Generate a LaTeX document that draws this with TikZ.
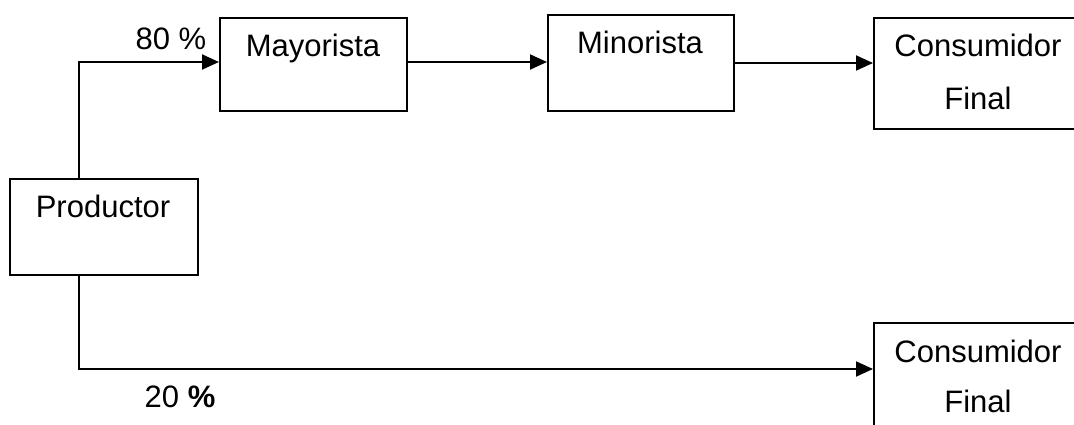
\documentclass[tikz,border=0pt]{standalone}
\usepackage{fontspec}
\setmainfont{Liberation Sans}
\usetikzlibrary{arrows.meta}
\begin{document}
\begin{tikzpicture}[x=1pt,y=-1pt,
  box/.style={draw,line width=1.9pt,rectangle,inner sep=0pt,anchor=north west},
  lbl/.style={anchor=base,inner sep=0pt,font=\fontsize{31}{37}\selectfont},
  conn/.style={line width=1.9pt,-{Triangle[length=17pt,width=15pt]}}]
\useasboundingbox (0,0) rectangle (1074,425);
\clip (0,0) rectangle (1074,425);
\fill[white] (0,0) rectangle (1074,425);
% boxes
\node[box,minimum width=188pt,minimum height=96pt] (prod) at (9,178) {};
\node[box,minimum width=187pt,minimum height=93pt] (may) at (219,17) {};
\node[box,minimum width=186pt,minimum height=96pt] (min) at (547,14) {};
\node[box,minimum width=250pt,minimum height=111pt] (cons1) at (873,17) {};
\node[box,minimum width=250pt,minimum height=150pt] (cons2) at (873,322) {};
% texts
\node[lbl] (tprod) at (103,217) {Productor};
\node[lbl] (tmay) at (313,57) {Mayorista};
\node[lbl] (tmin) at (640,54) {Minorista};
\node[lbl] (tc1a) at (978,57) {Consumidor};
\node[lbl] (tc1b) at (978,110) {Final};
\node[lbl] (tc2a) at (978,362) {Consumidor};
\node[lbl] (tc2b) at (978,412) {Final};
\node[lbl] (p80) at (171,50) {80 \%};
\node[lbl] (p20) at (180,407) {20 \textbf{\%}};
% helper coordinates
\coordinate (vx) at (79,0);
\coordinate (ytop) at (0,62);
\coordinate (ymin) at (0,62);
\coordinate (ycons) at (0,63);
\coordinate (ybot) at (0,369);
% connectors
\draw[conn] (prod.north -| vx) |- (may.west |- ytop);
\draw[conn] (may.east |- ymin) -- (min.west |- ymin);
\draw[conn] (min.east |- ycons) -- (cons1.west |- ycons);
\draw[conn] (prod.south -| vx) |- (cons2.west |- ybot);
\end{tikzpicture}
\end{document}
